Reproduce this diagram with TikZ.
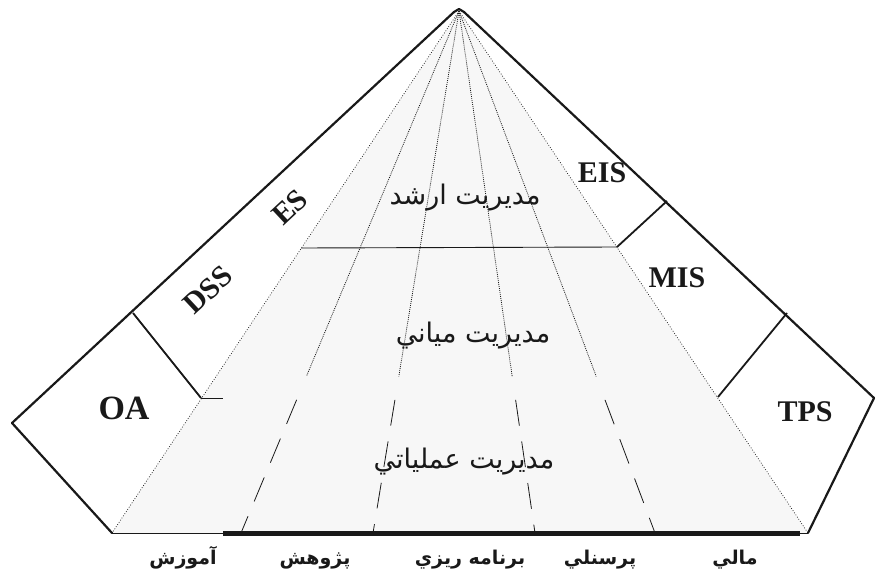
\documentclass[tikz,border=0pt]{standalone}
\usepackage{fontspec}
\setmainfont{Liberation Serif}
\newfontfamily\fa[Script=Arabic]{DejaVu Sans}
\TeXXeTstate=1
\usetikzlibrary{calc}
\definecolor{innerfill}{RGB}{247,247,247}
\definecolor{ink}{RGB}{25,25,25}
\tikzset{
  outer/.style={draw=ink, line width=2.2pt, line cap=round, line join=round},
  divider/.style={draw=ink, line width=1.8pt},
  thinline/.style={draw=ink, line width=0.9pt},
  edgedots/.style={draw=ink, line width=0.7pt, dash pattern=on 0.8pt off 1.8pt},
  fandots/.style={draw=ink, line width=0.8pt, dash pattern=on 0.9pt off 1.1pt},
  fandash/.style={draw=ink, line width=0.8pt, dash pattern=on 26pt off 16pt},
  syslabel/.style={font=\bfseries\fontsize{30}{32}\selectfont, text=ink, inner sep=0pt},
  levellabel/.style={font=\fa\fontsize{27}{30}\selectfont, text=ink, inner sep=0pt},
  unitlabel/.style={font=\fa\bfseries\fontsize{19}{22}\selectfont, text=ink, inner sep=0pt, anchor=base}
}
\begin{document}
\begin{tikzpicture}[x=1pt,y=-1pt]
\useasboundingbox (0,0) rectangle (877,583);

% main points of the pyramid
\coordinate (apex) at (459,11);
\coordinate (lt) at (454,12);
\coordinate (rt) at (464,12);
\coordinate (peak) at (459,9);
\coordinate (L) at (12,423);
\coordinate (R) at (874,398);
\coordinate (BL) at (112,533);
\coordinate (BR) at (808,533);
% side boxes
\coordinate (oaT) at (133,313);
\coordinate (oaR) at (201,398);
\coordinate (tick) at (223,398);
\coordinate (tpsT) at (787,313);
\coordinate (tpsL) at (718,397);
\coordinate (eisO) at (667,201);
\coordinate (eisI) at (617,247);
\coordinate (lvL) at (301,248);
% bottom bar
\coordinate (barA) at (223,533);
\coordinate (barB) at (800,533);
% feet of the fan lines
\coordinate (f1) at (241,533);
\coordinate (f2) at (373,533);
\coordinate (f3) at (535,533);
\coordinate (f4) at (655,533);

% shaded inner triangle
\fill[innerfill] (apex) -- (BL) -- (BR) -- cycle;

% inner boundaries
\draw[edgedots] (apex) -- (BL);
\draw[edgedots] (apex) -- (BR);

% fan lines: dotted in the upper levels, dashed in the lowest
\foreach \f in {f1,f2,f3,f4}{
  \draw[fandots] (apex) -- ($(apex)!0.70!(\f)$);
  \draw[fandash] ($(apex)!0.745!(\f)$) -- (\f);
}

% level separator
\draw[thinline] (lvL) -- (eisI);

% outer outline
\draw[outer] (L) -- (lt) -- (peak) -- (rt) -- (R) -- (BR);
\draw[outer] (L) -- (BL);

% box dividers
\draw[divider] (oaT) -- (oaR);
\draw[thinline] (oaR) -- (tick);
\draw[divider] (tpsT) -- (tpsL);
\draw[divider] (eisO) -- (eisI);

% base line and bar
\draw[thinline] (BL) -- (BR);
\draw[draw=ink, line width=5pt] (barA) -- (barB);

% system labels
\node[syslabel] (eis) at (602,173) {EIS};
\node[syslabel] (mis) at (677,278) {MIS};
\node[syslabel] (tps) at (805,412) {TPS};
\node[syslabel, font=\bfseries\fontsize{34}{36}\selectfont] (oa) at (124,408) {OA};
\node[syslabel, rotate=43] (es) at (290,207) {ES};
\node[syslabel, rotate=43] (dss) at (208,290) {DSS};

% management levels
\node[levellabel] (top) at (465,198) {\beginR مديريت ارشد\endR};
\node[levellabel] (mid) at (473,336) {\beginR مديريت مياني\endR};
\node[levellabel] (ops) at (464,462) {\beginR مديريت عملياتي\endR};

% functional units
\node[unitlabel] (u1) at (183,564) {\beginR آموزش\endR};
\node[unitlabel] (u2) at (315,564) {\beginR پژوهش\endR};
\node[unitlabel] (u3) at (470,564) {\beginR برنامه ريزي\endR};
\node[unitlabel] (u4) at (600,564) {\beginR پرسنلي\endR};
\node[unitlabel] (u5) at (735,564) {\beginR مالي\endR};
\end{tikzpicture}
\end{document}
